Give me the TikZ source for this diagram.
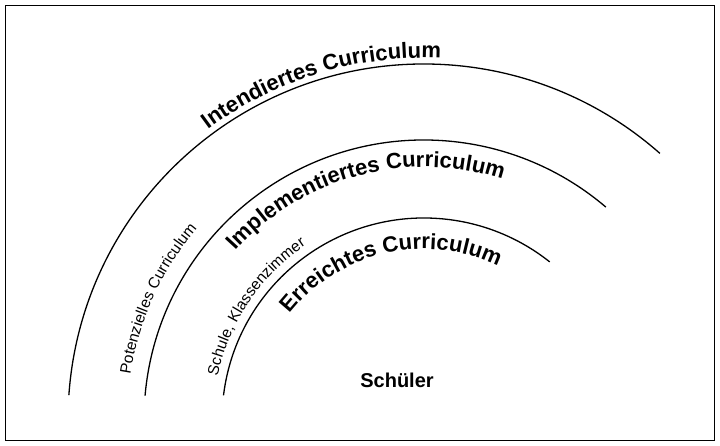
\documentclass[tikz,border=0pt]{standalone}
\usepackage{fontspec}
\setmainfont{Liberation Sans}
\usetikzlibrary{decorations.text}
\begin{document}
\begin{tikzpicture}[x=1pt,y=1pt,
  arcline/.style={line width=1.3pt},
  bigtxt/.style={decorate,decoration={text along path,text align=center,text={|\bfseries\fontsize{22}{24}\selectfont|#1}}},
  smalltxt/.style={decorate,decoration={text along path,text align=center,text={|\fontsize{15.5}{17}\selectfont|#1}}}]
\useasboundingbox (0,0) rectangle (720,445);
\fill[white] (0,0) rectangle (720,445);
\draw[line width=0.8pt] (5,5) rectangle (714,440);
\coordinate (c) at (424,25);
\draw[arcline] ([shift={(176:356pt)}]c) arc[start angle=176,end angle=48.5,radius=356pt];
\draw[arcline] ([shift={(175:280pt)}]c) arc[start angle=175,end angle=49.5,radius=280pt];
\draw[arcline] ([shift={(173:202pt)}]c) arc[start angle=173,end angle=51.5,radius=202pt];
\path[bigtxt={Intendiertes Curriculum}] ([shift={(148:362pt)}]c) arc[start angle=148,end angle=66,radius=362pt];
\path[bigtxt={Implementiertes Curriculum}] ([shift={(146:253pt)}]c) arc[start angle=146,end angle=64,radius=253pt];
\path[bigtxt={Erreichtes Curriculum}] ([shift={(150:171pt)}]c) arc[start angle=150,end angle=56,radius=171pt];
\path[smalltxt={Potenzielles Curriculum}] ([shift={(180:297pt)}]c) arc[start angle=180,end angle=131,radius=297pt];
\path[smalltxt={Schule, Klassenzimmer}] ([shift={(180:211pt)}]c) arc[start angle=180,end angle=112,radius=211pt];
\node[font=\bfseries\fontsize{20}{22}\selectfont] (s) at (397,65) {Schüler};
\end{tikzpicture}
\end{document}
